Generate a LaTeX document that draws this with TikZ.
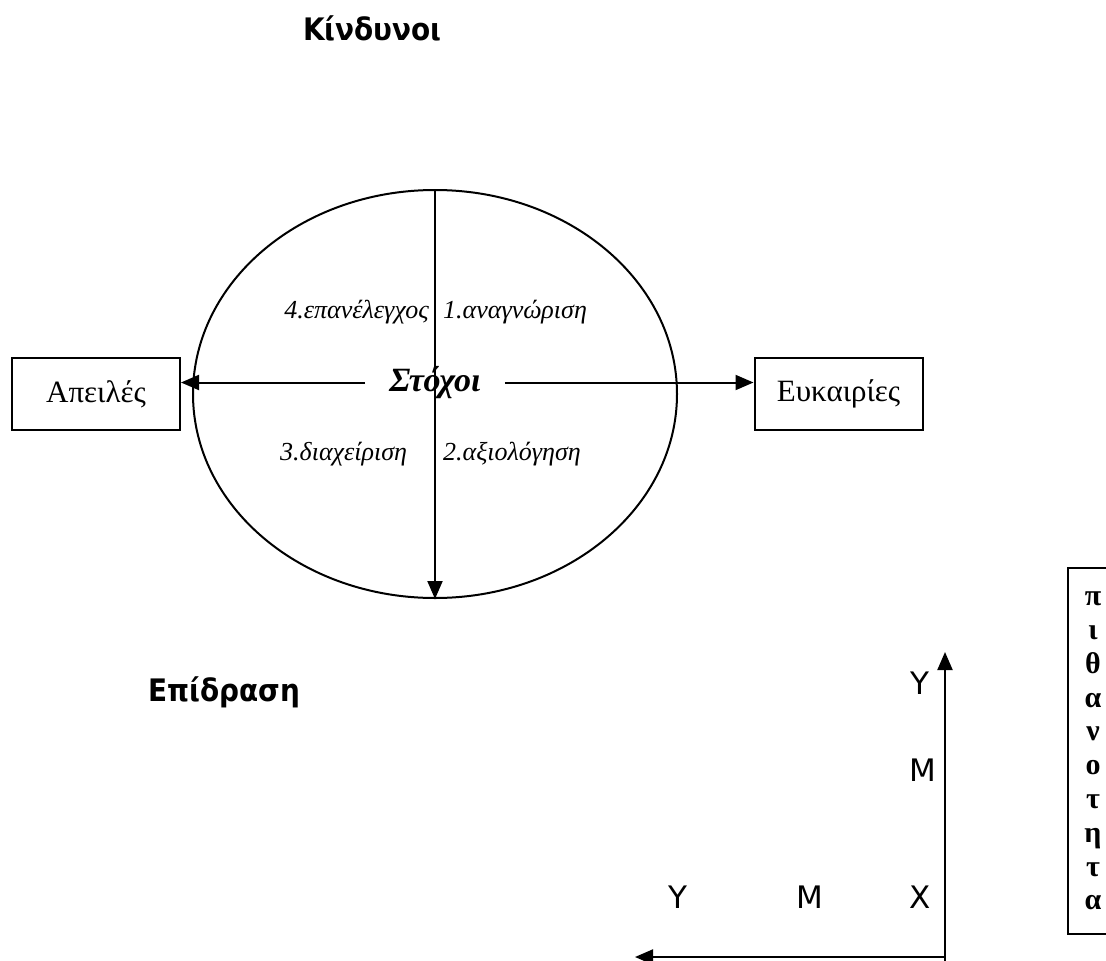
\documentclass[tikz,border=0pt]{standalone}
\usepackage{fontspec}
\setmainfont{Liberation Serif}
\newfontfamily\labelsans{DejaVu Sans}
\newfontfamily\headsans{DejaVu Sans Condensed}
\usetikzlibrary{shapes.geometric,arrows.meta}
\tikzstyle{tipp}=[line width=2pt,-{Triangle[length=18pt,width=15pt]}]
\tikzstyle{outcome}=[draw,rectangle,line width=2pt,minimum width=168pt,minimum height=72pt,inner sep=0pt,font=\fontsize{31}{36}\selectfont]
\tikzstyle{stage}=[inner sep=0pt,anchor=base west,font=\fontsize{26}{30}\selectfont\itshape]
\tikzstyle{heading}=[inner sep=0pt,anchor=base west,font=\headsans\bfseries\fontsize{31}{36}\selectfont]
\tikzstyle{axislabel}=[inner sep=0pt,anchor=base,font=\labelsans\fontsize{31}{36}\selectfont]

\begin{document}
\begin{tikzpicture}[x=1pt,y=-1pt]
    \useasboundingbox (0,0) rectangle (1106,961);
    \clip (0,0) rectangle (1106,961);
    % headings
    \node[heading] (risks) at (303,40) {Κίνδυνοι};
    \node[heading] (impact) at (148,701) {Επίδραση};

    % the cycle
    \node[draw,ellipse,line width=2pt,minimum width=484pt,minimum height=408pt,inner sep=0pt] (cycle) at (435,394) {};
    \node[outcome] (threats) at (96,394) {Απειλές};
    \node[outcome] (chances) at (838.5,394) {Ευκαιρίες};
    \node[anchor=base,inner xsep=24pt,inner ysep=0pt,text height=17pt,text depth=0pt,font=\fontsize{34}{38}\selectfont\bfseries\itshape] (goals) at (435,391) {Στόχοι};
    \draw[tipp] (goals.west) -- (goals.west -| threats.east);
    \draw[tipp] (goals.east) -- (goals.east -| chances.west);
    \draw[tipp] (cycle.north) -- (cycle.south);

    \node[stage,anchor=base east] (recheck) at (429,318) {4.επανέλεγχος};
    \node[stage] (identify) at (443,318) {1.αναγνώριση};
    \node[stage] (manage) at (280,460) {3.διαχείριση};
    \node[stage] (assess) at (443,460) {2.αξιολόγηση};

    % impact / likelihood axes
    \coordinate (origin) at (945,957);
    \coordinate (yend) at (945,652);
    \coordinate (xend) at (635,957);
    \draw[tipp] (945,961) -- (yend);
    \draw[tipp] (origin) -- (xend);
    \foreach \name/\txt/\x/\y in {ya/Y/920/694,ym/M/923/781,yx/X/920/908,xm/M/810/908,xy/Y/678/908}
        \node[axislabel] (\name) at (\x,\y) {\txt};

    \node[draw,line width=2pt,anchor=north west,minimum width=50pt,minimum height=366pt,inner sep=0pt,align=center,font=\fontsize{30}{33.8}\selectfont\bfseries] (likeli) at (1067,567)
        {π\\ι\\θ\\α\\ν\\ο\\τ\\η\\τ\\α};
\end{tikzpicture}
\end{document}
